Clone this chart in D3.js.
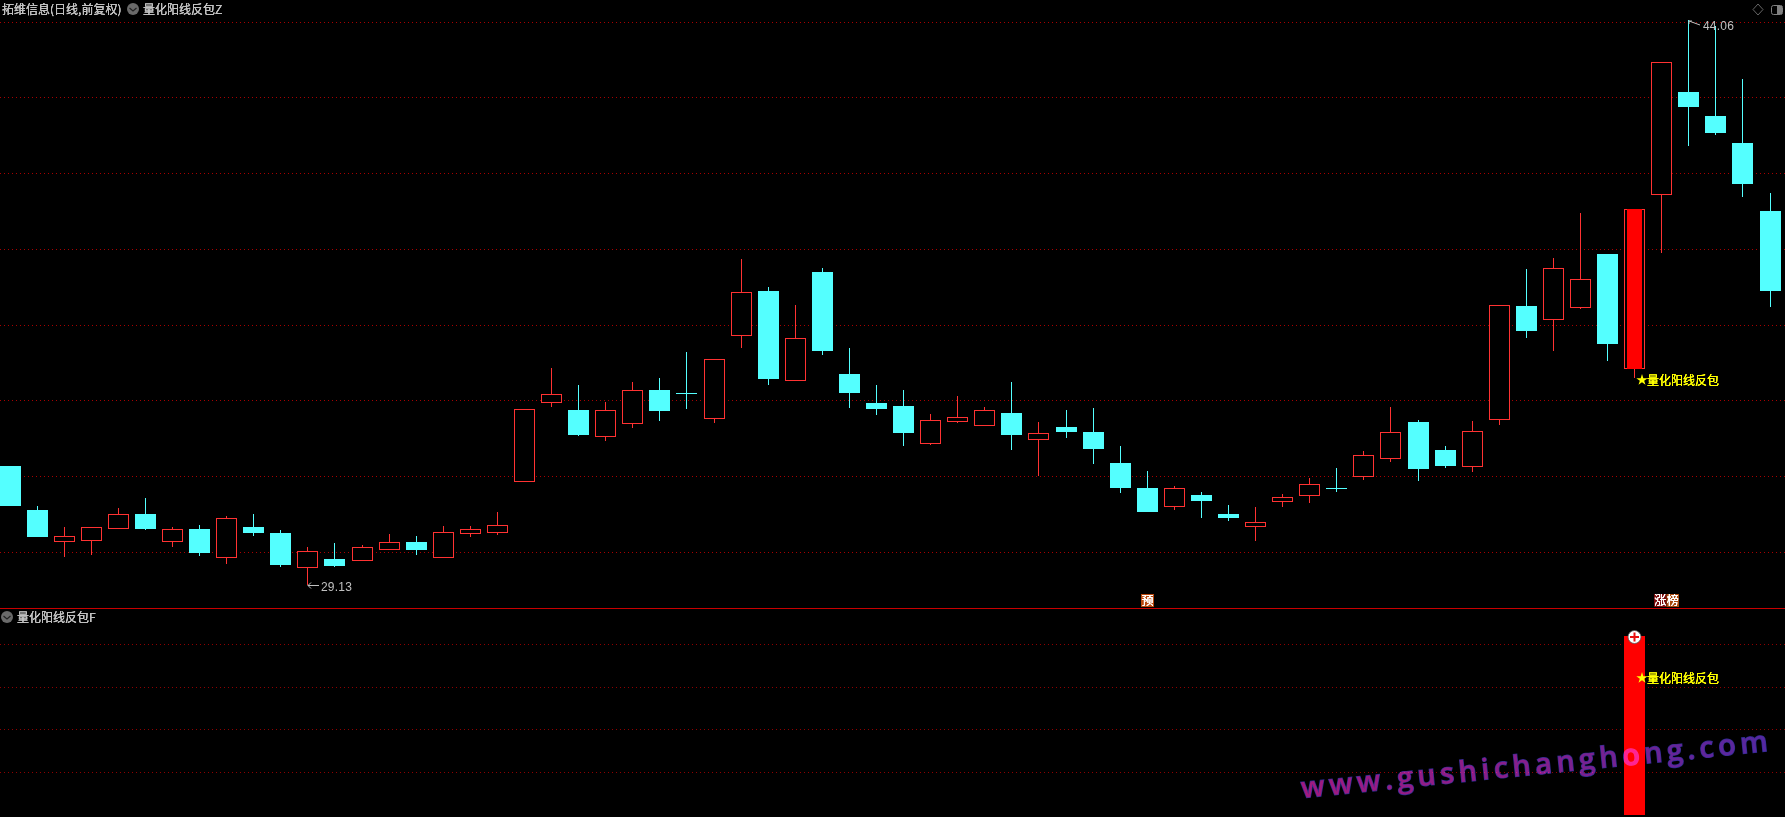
<!DOCTYPE html>
<html><head><meta charset="utf-8">
<script src="https://cdn.jsdelivr.net/npm/d3@7/dist/d3.min.js"></script>
<style>html,body{margin:0;padding:0;background:#000;overflow:hidden}svg{display:block}</style>
</head><body><div id="chart"></div>
<script>
const opens =[32.27,31.11,30.30,30.33,30.64,31.00,30.30,30.61,29.88,30.66,30.50,29.61,29.82,29.80,30.09,30.27,29.88,30.51,30.54,31.87,33.97,33.75,33.07,33.42,34.28,34.20,33.55,35.74,36.90,34.55,37.40,34.71,33.94,33.86,32.89,33.47,33.37,33.67,33.00,33.30,33.17,32.35,31.69,31.22,31.51,31.00,30.70,31.36,31.52,31.68,32.02,32.49,33.44,32.70,32.28,33.51,36.50,36.17,36.48,37.88,34.87,39.47,42.16,41.52,40.81,39.01];
const highs =[32.27,31.22,30.65,30.65,31.16,31.43,30.65,30.71,30.95,31.00,30.58,30.13,30.24,30.18,30.48,30.42,30.69,30.69,31.06,33.77,34.86,34.41,33.97,34.49,34.60,35.29,35.09,37.74,37.00,36.53,37.51,35.39,34.41,34.28,33.65,34.12,33.83,34.49,33.44,33.75,33.81,32.80,32.14,31.75,31.59,31.24,31.19,31.53,31.96,32.22,32.67,33.83,33.49,32.80,33.46,36.52,37.48,37.76,38.96,37.88,39.06,42.94,44.06,43.90,42.50,39.49];
const lows  =[31.22,30.40,29.87,29.92,30.64,30.58,30.13,29.90,29.68,30.42,29.60,29.13,29.60,29.80,30.09,29.92,29.88,30.40,30.45,31.87,33.83,33.07,32.93,33.28,33.46,33.78,33.41,35.39,34.41,34.55,35.21,33.81,33.62,32.80,32.83,33.41,33.37,32.70,32.01,33.01,32.33,31.56,31.06,31.11,30.90,30.82,30.29,31.19,31.30,31.59,31.90,32.38,31.88,32.22,32.12,33.36,35.66,35.31,36.42,35.05,34.60,37.90,40.73,41.02,39.38,36.48];
const closes=[31.22,30.40,30.42,30.65,31.00,30.61,30.60,29.97,30.89,30.50,29.66,30.02,29.63,30.13,30.26,30.05,30.52,30.60,30.71,33.77,34.17,33.09,33.75,34.27,33.73,34.20,35.09,36.86,34.57,35.67,35.31,34.20,33.78,33.15,33.48,33.56,33.75,33.09,33.14,33.17,32.72,31.69,31.06,31.68,31.35,30.90,30.79,31.45,31.79,31.68,32.56,33.16,32.19,32.27,33.19,36.52,35.84,37.50,37.21,35.50,39.06,42.94,41.76,41.07,39.73,36.90];
const upFlags=[0,0,1,1,1,0,1,0,1,0,0,1,0,1,1,0,1,1,1,1,1,0,1,1,0,0,1,1,0,1,0,0,0,0,1,1,1,0,1,0,0,0,0,1,0,0,1,1,1,0,1,1,0,0,1,1,0,1,1,0,1,1,0,0,0,0];
const priceGrid=[44,42,40,38,36,34,32,30];
const indicatorGrid=[0.2,0.4,0.6,0.8];
const signalIndexes=[60];
const signalValues=[0.84];
const titleMain="拓维信息(日线,前复权)";
const indicatorMain="量化阳线反包Z";
const indicatorSub="量化阳线反包F";
const signalLabel="量化阳线反包";
const watermark="www.gushichanghong.com";
const highLabel=44.06, lowLabel=29.13;

const W=1785,H=817;
const RED="#ff3232",CYAN="#54ffff",GRID="#a80000",TXT="#c0c0c0",YEL="#ffff00";
const FONT='"Noto Sans CJK SC","Noto Sans",sans-serif';
const svg=d3.select("#chart").append("svg").attr("width",W).attr("height",H).style("background","#000");
const defs=svg.append("defs");
const f=defs.append("filter").attr("id","px").attr("x","-5%").attr("y","-20%").attr("width","110%").attr("height","140%");
f.append("feComponentTransfer").append("feFuncA").attr("type","table").attr("tableValues","0 0.7 1 1");
const wg=defs.append("linearGradient").attr("id","wm").attr("gradientUnits","userSpaceOnUse")
  .attr("x1",0).attr("y1",0).attr("x2",470).attr("y2",0);
wg.append("stop").attr("offset",0).attr("stop-color","#a01a80");
wg.append("stop").attr("offset",.5).attr("stop-color","#841f8c");
wg.append("stop").attr("offset",1).attr("stop-color","#5428a0");

const idx=d3.range(opens.length);
const xs=d3.scaleLinear().domain([0,65]).range([10,1770]);
const X=i=>Math.floor(xs(i));
const y=d3.scaleLinear().domain([44.06,29.13]).range([20,585]);
const Y=v=>Math.round(y(v));
const yi=d3.scaleLinear().domain([0,0.84]).range([815,636]);

// grids
const dotted=(g,vals,sc)=>g.selectAll("line").data(vals).join("line")
  .attr("x1",0).attr("x2",W).attr("y1",d=>Math.floor(sc(d))+.5).attr("y2",d=>Math.floor(sc(d))+.5)
  .attr("stroke",GRID).attr("stroke-width",1).attr("stroke-dasharray","1 3");
dotted(svg.append("g"),priceGrid,y);
dotted(svg.append("g").attr("opacity",.85),indicatorGrid,yi);
svg.append("rect").attr("x",0).attr("y",608).attr("width",W).attr("height",1).attr("fill","#c80000");

// candles
const c=svg.append("g").attr("shape-rendering","crispEdges");
const col=i=>upFlags[i]?RED:CYAN;
const bodyTop=i=>Y(Math.max(opens[i],closes[i]));
const bodyBot=i=>Y(Math.min(opens[i],closes[i]));
c.selectAll(".wu").data(idx).join("rect").attr("class","wu").attr("x",X).attr("width",1)
  .attr("y",i=>Y(highs[i])).attr("height",i=>Math.max(0,bodyTop(i)-Y(highs[i]))).attr("fill",col);
c.selectAll(".wd").data(idx).join("rect").attr("class","wd").attr("x",X).attr("width",1)
  .attr("y",bodyBot).attr("height",i=>Math.max(0,Y(lows[i])-bodyBot(i))).attr("fill",col);
c.selectAll(".dn").data(idx.filter(i=>!upFlags[i])).join("rect").attr("class","dn")
  .attr("x",i=>X(i)-10).attr("width",21).attr("y",bodyTop).attr("height",i=>Math.max(1,bodyBot(i)-bodyTop(i))).attr("fill",CYAN);
c.selectAll(".up").data(idx.filter(i=>upFlags[i])).join("rect").attr("class","up")
  .attr("x",i=>X(i)-9.5).attr("width",20).attr("y",i=>bodyTop(i)+.5).attr("height",i=>Math.max(1,bodyBot(i)-bodyTop(i)))
  .attr("fill","#000").attr("stroke",RED).attr("stroke-width",1);
c.selectAll(".sig").data(signalIndexes).join("rect").attr("class","sig")
  .attr("x",i=>X(i)-7).attr("width",15).attr("y",bodyTop).attr("height",i=>bodyBot(i)-bodyTop(i)+1).attr("fill","#ff0000");

// lower pane bars
c.selectAll(".bar").data(signalIndexes).join("rect").attr("class","bar")
  .attr("x",i=>X(i)-10).attr("width",21)
  .attr("y",(d,k)=>yi(signalValues[k])).attr("height",(d,k)=>yi(0)-yi(signalValues[k])).attr("fill","#ff0000");

// text helper
const label=(x,yy,s,o={})=>svg.append("text").attr("x",x).attr("y",yy).text(s)
  .attr("font-family",o.font||FONT).attr("font-size",o.size||12).attr("fill",o.fill||TXT)
  .attr("text-anchor",o.anchor||"start").attr("filter",o.raw?null:"url(#px)")
  .attr("letter-spacing",o.ls||null);

const chevron=(cx,cy)=>{
  svg.append("circle").attr("cx",cx).attr("cy",cy).attr("r",6).attr("fill","#6a6a6a");
  svg.append("path").attr("d",`M${cx-3.5},${cy-1}L${cx},${cy+2}L${cx+3.5},${cy-1}`).attr("fill","none").attr("stroke","#222").attr("stroke-width",1.2);
};
label(2,14,titleMain);
chevron(133,9);
label(143,14,indicatorMain);
chevron(7,617);
label(17,622,indicatorSub);

// price annotations
const hi=idx[highs.indexOf(d3.max(highs))], lo=idx[lows.indexOf(d3.min(lows))];
const num={font:'"Liberation Sans",sans-serif',ls:.2,raw:true};
label(X(hi)+15,y(highLabel)+10,highLabel.toFixed(2),num);
label(X(lo)+14,y(lowLabel)+6,lowLabel.toFixed(2),num);
svg.append("path").attr("d",`M${X(hi)+4},${y(highLabel)+1}L${X(hi)+1},${y(highLabel)+1}L${X(hi)+1},${y(highLabel)+4}M${X(hi)+1},${y(highLabel)+1}L${X(hi)+12},${y(highLabel)+5}`)
  .attr("fill","none").attr("stroke",TXT).attr("stroke-width",1);
svg.append("path").attr("d",`M${X(lo)+12},${y(lowLabel)+.5}L${X(lo)+1},${y(lowLabel)+.5}M${X(lo)+4},${y(lowLabel)-2.5}L${X(lo)+1},${y(lowLabel)+.5}L${X(lo)+4},${y(lowLabel)+3.5}`)
  .attr("fill","none").attr("stroke",TXT).attr("stroke-width",1);

// signal labels
const star=d3.symbol().type(d3.symbolStar).size(40);
const sigLabel=(cy)=>{
  svg.append("path").attr("d",star()).attr("transform",`translate(${X(signalIndexes[0])+8},${cy})`).attr("fill",YEL);
  label(X(signalIndexes[0])+13,cy+5,signalLabel,{fill:YEL});
};
sigLabel(380);
sigLabel(678);

// tags
const tag=(x,w,bg,s)=>{
  svg.append("rect").attr("x",x).attr("y",594).attr("width",w).attr("height",13).attr("fill",bg);
  label(x+w/2,605,s,{anchor:"middle",fill:"#fff"});
};
tag(1141,13,"#b8480e","预");
tag(1654,12.5,"#7a0a0a","涨");
tag(1666.5,12.5,"#a8480e","榜");

// plus circle
const pcx=X(signalIndexes[0])+.5, pcy=637;
svg.append("circle").attr("cx",pcx).attr("cy",pcy).attr("r",6.5).attr("fill","#fff").attr("stroke","#555").attr("stroke-width",.8);
svg.append("path").attr("d",`M${pcx-4.5},${pcy}H${pcx+4.5}M${pcx},${pcy-4.5}V${pcy+4.5}`).attr("stroke","#e81010").attr("stroke-width",2).attr("fill","none");

// top right icons
svg.append("path").attr("d","M1758,4L1763,9.5L1758,15L1753,9.5Z").attr("fill","none").attr("stroke","#666");
svg.append("rect").attr("x",1771.5).attr("y",5.5).attr("width",11).attr("height",9).attr("rx",2).attr("fill","#000").attr("stroke","#808080");
svg.append("rect").attr("x",1777).attr("y",6).attr("width",5).attr("height",8).attr("fill","#808080");

// watermark
svg.append("text").attr("transform","translate(1302,798) rotate(-5.75)").text(watermark)
  .attr("font-family",'"Open Sans",sans-serif').attr("font-size",29).attr("font-weight",600)
  .attr("letter-spacing",4.4)
  .attr("fill","url(#wm)").attr("stroke","#2c2c90").attr("stroke-width",1.3).attr("paint-order","stroke")
  .style("mix-blend-mode","screen");
</script></body></html>
